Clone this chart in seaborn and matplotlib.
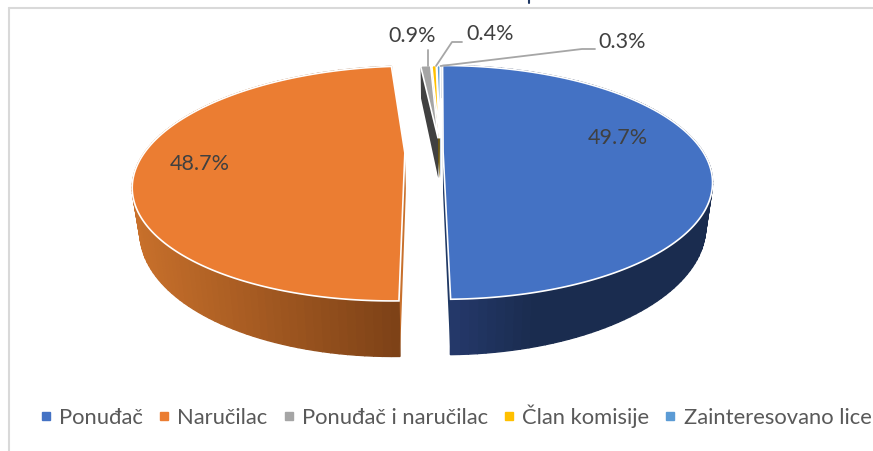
import numpy as np
import matplotlib.pyplot as plt
from matplotlib.colors import LinearSegmentedColormap
import seaborn as sns

categories = ['Ponuđač', 'Naručilac', 'Ponuđač i naručilac', 'Član komisije', 'Zainteresovano lice']
shares = [49.7, 48.7, 0.9, 0.4, 0.3]
explode = [0.01, 0.137, 0.13, 0.13, 0.13]
radius = [1.0, 1.0, 0.87, 0.87, 0.87]

colors = ['#4472C4', '#EB7D32', '#A5A5A5', '#FFC000', '#5B9BD5']
face_colors = ['#1F3864', '#C8702C', '#404040', '#7F6000', '#2E5F8F']
wall_stops = [['#25396C', '#1A2C4F', '#1A2C4F', '#1A2C4F'],
              ['#C8702B', '#7E4217'],
              ['#404040', '#404040'], ['#7F6000', '#7F6000'], ['#2E5F8F', '#2E5F8F']]

# projection of the tilted pie, all in pixels of the 873x451 picture
cx, cy = 440.5, 152
fx, fy = 260, 109
k = 0.26
depth = 41
shrink = 0.975

sns.set_theme(style='white')
plt.rcParams['font.family'] = ['Lato', 'DejaVu Sans']

fig = plt.figure(figsize=(8.73, 4.51), dpi=100)
ax = fig.add_axes([0, 0, 1, 1])
ax.set_xlim(0, 873)
ax.set_ylim(451, 0)
ax.axis('off')


def project(theta, mid, off, r=1.0, low=False):
    # theta clockwise from the back of the pie
    X = r * np.sin(theta) + off * np.sin(mid)
    Z = r * np.cos(theta) + off * np.cos(mid)
    w = 1 + k * Z
    x = fx * X / w
    y = cy - fy * Z / w
    if low:
        return cx + x * shrink, y + depth / w
    return cx + x, y


palette = sns.color_palette(colors)
edges = np.cumsum([0] + shares) / sum(shares) * 2 * np.pi

# chart frame
ax.plot([9, 873], [8, 8], color='#D9D9D9', lw=1.5)
ax.plot([9, 9], [8, 451], color='#D9D9D9', lw=1.5)

# cut faces, small slices first
for i in [4, 3, 2, 0, 1]:
    a, b = edges[i], edges[i + 1]
    mid = (a + b) / 2
    for t in [b, a]:
        rim = project(t, mid, explode[i], radius[i])
        rim_low = project(t, mid, explode[i], radius[i], low=True)
        apex = project(t, mid, explode[i], 0)
        apex_low = project(t, mid, explode[i], 0, low=True)
        ax.fill([rim[0], apex[0], apex_low[0], rim_low[0]],
                [rim[1], apex[1], apex_low[1], rim_low[1]],
                color=face_colors[i], lw=0, zorder=2)

# outer walls with the shading
for i in range(len(shares)):
    a, b = edges[i], edges[i + 1]
    mid = (a + b) / 2
    cmap = LinearSegmentedColormap.from_list('wall', wall_stops[i])
    ts = np.linspace(a, b, 121)
    top = np.array([project(t, mid, explode[i], radius[i]) for t in ts])
    bot = np.array([project(t, mid, explode[i], radius[i], low=True) for t in ts])
    front = top[np.cos(ts) < 0.1, 0]
    if len(front) == 0:
        continue
    for j in range(len(ts) - 1):
        pos = (top[j, 0] - front.min()) / max(front.max() - front.min(), 1)
        col = cmap(np.clip(pos, 0, 1))
        ax.fill([top[j, 0], top[j + 1, 0], bot[j + 1, 0], bot[j, 0]],
                [top[j, 1], top[j + 1, 1], bot[j + 1, 1], bot[j, 1]],
                facecolor=col, edgecolor=col, lw=1.0, zorder=3)

# top surfaces
for i in [2, 3, 4, 1, 0]:
    a, b = edges[i], edges[i + 1]
    mid = (a + b) / 2
    ts = np.linspace(a, b, 200)
    pts = [project(t, mid, explode[i], radius[i]) for t in ts]
    pts.append(project(a, mid, explode[i], 0))
    pts = np.array(pts)
    ax.fill(pts[:, 0], pts[:, 1], facecolor=palette[i], edgecolor='white', lw=1.2, zorder=4, joinstyle='miter')

# leader lines
ax.plot([428, 428], [66, 50], color='#A6A6A6', lw=1.3, zorder=5)
ax.plot([436, 452, 462], [66, 42, 42], color='#A6A6A6', lw=1.3, zorder=5)
ax.plot([440.5, 582, 595], [66, 49, 49], color='#A6A6A6', lw=1.3, zorder=5)

# value labels
label_pos = [(618, 138), (200, 164), (412, 36), (490, 34), (622, 42)]
for (x, y), val in zip(label_pos, shares):
    ax.text(x, y, f'{val}%', ha='center', va='center', color='#404040', fontsize=15.5, zorder=6)

# whatever is left of the cut off title
ax.plot([529, 529], [0, 3], color='#1F3864', lw=1.5)

handles = [plt.Line2D([], [], ls='', marker='s', ms=5.5, color=c) for c in palette]
ax.legend(handles, categories, loc='center', bbox_to_anchor=(456 / 873, 1 - 416 / 451), ncol=5,
          frameon=False, fontsize=15.8, labelcolor='#595959', handletextpad=0.36, columnspacing=0.7,
          handlelength=0.5, borderpad=0, borderaxespad=0)

plt.savefig('out.png', dpi=100)
